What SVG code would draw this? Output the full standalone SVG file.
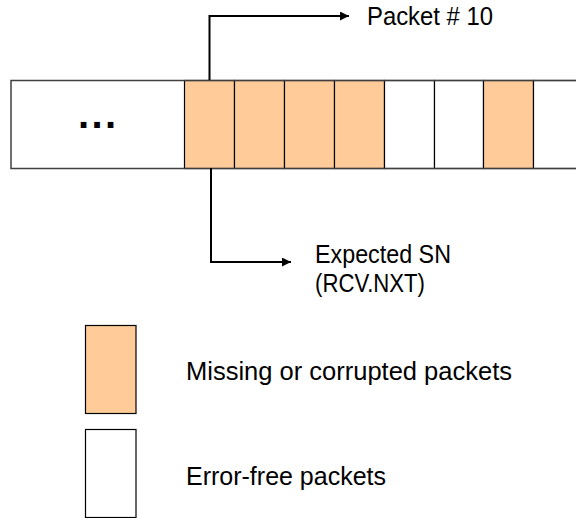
<svg xmlns="http://www.w3.org/2000/svg" width="576" height="518" viewBox="0 0 576 518">
  <defs>
    <style>
      .lbl { font-family: "Liberation Sans", Arial, sans-serif; font-size: 25px; fill: #000; }
      .miss { fill: #FFCC99; stroke: #000; stroke-width: 1.2; }
      .ok { fill: #FFFFFF; stroke: #000; stroke-width: 1.2; }
      .frame { fill: none; stroke: #404040; stroke-width: 1.5; }
      .conn { fill: none; stroke: #000; stroke-width: 2; }
    </style>
    <marker id="arr" viewBox="0 0 10 10" refX="10" refY="5" markerWidth="8" markerHeight="4.5" markerUnits="strokeWidth" orient="auto">
      <path d="M0,0 L10,5 L0,10 z" fill="#000"/>
    </marker>
  </defs>
  <rect width="576" height="518" fill="#fff"/>

  <g id="buffer">
    <rect x="11" y="80.5" width="620" height="88" fill="#fff"/>
    <rect class="miss" x="184.5" y="80.5" width="50" height="88"/>
    <rect class="miss" x="234.5" y="80.5" width="50" height="88"/>
    <rect class="miss" x="284.5" y="80.5" width="50" height="88"/>
    <rect class="miss" x="334.5" y="80.5" width="50" height="88"/>
    <rect class="ok" x="384.5" y="80.5" width="50" height="88"/>
    <rect class="ok" x="434.5" y="80.5" width="49" height="88"/>
    <rect class="miss" x="483.5" y="80.5" width="50" height="88"/>
    <rect class="ok" x="533.5" y="80.5" width="60" height="88"/>
    <rect class="frame" x="11" y="80.5" width="620" height="88"/>
    <text x="78" y="128" textLength="38" lengthAdjust="spacing" font-family="Liberation Sans, Arial, sans-serif" font-size="40" font-weight="bold" fill="#000">...</text>
  </g>

  <g id="connectors">
    <polyline class="conn" points="209.5,80 209.5,16 349,16" marker-end="url(#arr)"/>
    <polyline class="conn" points="211,168 211,262 291,262" marker-end="url(#arr)"/>
  </g>

  <g id="label-packet10">
    <text class="lbl" x="367" y="25" textLength="126" lengthAdjust="spacingAndGlyphs">Packet # 10</text>
  </g>
  <g id="label-expected">
    <text class="lbl" x="315" y="263" textLength="136" lengthAdjust="spacingAndGlyphs">Expected SN</text>
    <text class="lbl" x="315" y="292" textLength="110" lengthAdjust="spacingAndGlyphs">(RCV.NXT)</text>
  </g>

  <g id="legend-missing">
    <rect class="miss" x="85.5" y="325.5" width="50.5" height="88" stroke="#333"/>
    <text class="lbl" x="186" y="380" textLength="326" lengthAdjust="spacingAndGlyphs">Missing or corrupted packets</text>
  </g>
  <g id="legend-ok">
    <rect class="ok" x="85.5" y="429.5" width="50.5" height="88" stroke="#333"/>
    <text class="lbl" x="186" y="485" textLength="200" lengthAdjust="spacingAndGlyphs">Error-free packets</text>
  </g>
</svg>
